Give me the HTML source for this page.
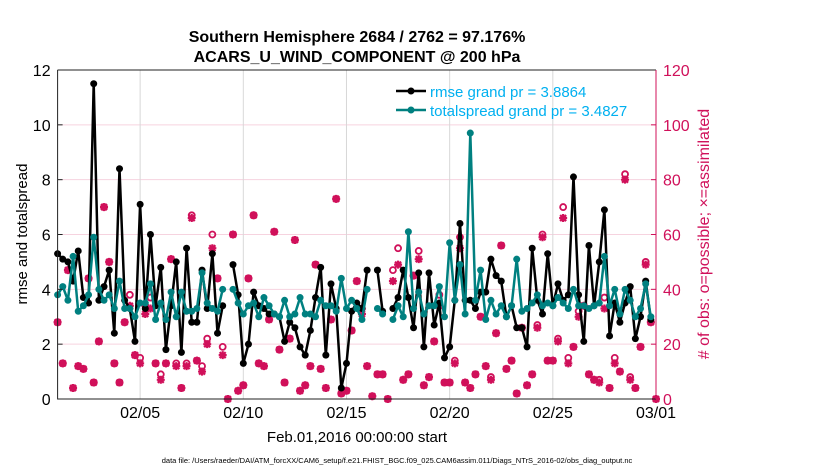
<!DOCTYPE html>
<html><head><meta charset="utf-8"><style>
body{margin:0;background:#fff;}
svg{display:block;font-family:"Liberation Sans",sans-serif;}
</style></head><body>
<svg id="chart" width="830" height="470" viewBox="0 0 830 470" xmlns="http://www.w3.org/2000/svg">
<rect width="830" height="470" fill="#fff"/>
<text x="357" y="42" text-anchor="middle" font-size="16" font-weight="bold">Southern Hemisphere 2684 / 2762 = 97.176%</text>
<text x="357" y="62" text-anchor="middle" font-size="16" font-weight="bold">ACARS_U_WIND_COMPONENT @ 200 hPa</text>
<g id="grid"></g>
<g id="obs"></g>
<g id="lines"></g>
<g id="axes"></g>
<text transform="translate(27,234) rotate(-90)" text-anchor="middle" font-size="15">rmse and totalspread</text>
<text transform="translate(709,234) rotate(-90)" text-anchor="middle" font-size="16" fill="#d0105a"># of obs: o=possible; ×=assimilated</text>
<text x="357" y="442" text-anchor="middle" font-size="15">Feb.01,2016 00:00:00 start</text>
<text x="397" y="463" text-anchor="middle" font-size="7.5">data file: /Users/raeder/DAI/ATM_forcXX/CAM6_setup/f.e21.FHIST_BGC.f09_025.CAM6assim.011/Diags_NTrS_2016-02/obs_diag_output.nc</text>
<g>
<line x1="396" y1="91" x2="426" y2="91" stroke="#000" stroke-width="2.5"/><circle cx="411" cy="91" r="3.5" fill="#000"/>
<text x="430" y="97" font-size="15" fill="#00b0f0">rmse grand pr = 3.8864</text>
<line x1="396" y1="110" x2="426" y2="110" stroke="#008080" stroke-width="2.5"/><circle cx="411" cy="110" r="3.5" fill="#008080"/>
<text x="430" y="116" font-size="15" fill="#00b0f0">totalspread grand pr = 3.4827</text>
</g>
</svg>
<script>
const rmse=[5.3,5.1,5.0,4.3,5.4,3.7,3.5,11.5,3.6,4.1,4.7,2.4,8.4,3.6,3.3,2.1,7.1,3.3,6.0,3.4,4.8,1.8,3.4,5.0,1.7,5.5,2.8,2.8,
4.7,3.3,5.3,2.4,3.4,null,4.9,3.8,1.3,2.0,3.9,3.4,3.3,3.1,3.1,3.0,2.1,2.8,2.6,1.9,1.6,2.5,3.7,4.8,1.6,4.2,3.3,0.4,1.3,3.2,3.5,3.3,
4.7,null,4.7,3.2,null,3.3,3.7,4.7,3.7,2.6,4.6,1.9,4.6,2.7,3.5,1.5,1.9,3.6,6.4,3.6,3.6,3.3,3.9,3.9,5.1,4.5,4.3,3.0,
3.4,2.6,2.6,1.9,5.5,3.6,3.1,5.3,3.4,4.2,3.6,3.8,8.1,3.8,2.1,5.6,3.4,5.0,6.9,2.3,3.5,2.8,3.5,4.1,2.2,3.0,4.3,2.9];
const spread=[3.8,4.1,3.6,5.2,3.2,3.4,3.8,5.9,4.0,3.6,3.8,3.3,4.3,3.3,3.3,3.0,3.5,3.5,4.2,2.9,3.5,2.9,3.9,3.0,3.9,3.2,3.2,3.3,
4.6,3.5,3.3,3.2,4.0,null,4.0,3.5,3.1,3.4,3.5,3.0,3.7,3.4,3.1,3.0,3.6,3.0,3.1,3.7,3.1,3.1,3.0,3.6,3.4,3.4,3.2,4.4,3.3,3.6,3.3,2.9,
4.0,null,3.3,3.1,null,2.9,3.4,3.0,6.1,3.3,3.9,3.1,3.4,3.4,4.1,3.0,5.7,3.6,4.9,3.1,9.7,3.6,4.7,2.9,3.6,3.1,3.4,3.0,
3.4,5.1,3.2,3.3,3.5,3.8,3.4,3.5,3.4,3.7,3.5,3.3,4.0,3.4,3.4,3.3,3.4,3.5,5.2,3.4,4.0,3.1,4.0,3.6,3.0,3.3,4.2,3.0];
const assim=[28,13,47,4,12,11,44,6,21,70,50,13,6,28,34,16,13,31,33,13,7,13,51,12,4,12,66,14,
10,20,55,44,16,0,60,3,5,44,67,13,12,29,61,18,6,22,58,3,5,12,49,11,4,29,73,2,3,25,43,31,
12,1,9,9,0,43,49,7,9,45,51,5,8,21,34,6,6,13,55,6,4,9,30,12,7,24,56,11,
14,2,26,5,9,26,59,14,14,21,66,13,19,30,34,9,7,6,33,4,13,10,80,7,4,19,49,28,0];
const possible=[28,13,47,4,12,11,44,6,21,70,50,13,6,28,38,16,15,34,37,13,9,13,51,13,4,13,67,14,
12,22,60,44,19,0,60,3,5,44,67,13,12,29,61,18,6,22,58,3,5,12,49,11,4,29,73,2,3,25,43,33,
12,1,9,9,0,47,55,7,9,45,54,5,8,21,38,6,6,14,59,6,4,9,30,12,8,24,56,11,
14,2,26,5,9,27,60,14,14,22,70,15,19,32,34,9,7,7,37,4,15,10,82,8,4,19,50,28,0];
const dateTicks=["02/05","02/10","02/15","02/20","02/25","03/01"];
const tickDays=[4,9,14,19,24,29];
const leftTicks=[0,2,4,6,8,10,12];
const rightTicks=[0,20,40,60,80,100,120];

const X0=57.6,X1=656,Y0=399,Y1=70,DAYS=29;
const x=d=>X0+(X1-X0)*d/DAYS;
const yL=v=>Y0-(Y0-Y1)*v/12;
const yR=v=>Y0-(Y0-Y1)*v/120;
const dayOf=i=>i*0.25;
const NS="http://www.w3.org/2000/svg";
function mk(tag,parent,attrs){const e=document.createElementNS(NS,tag);for(const k in attrs)e.setAttribute(k,attrs[k]);parent.appendChild(e);return e;}
const grid=document.getElementById('grid'),axes=document.getElementById('axes'),lines=document.getElementById('lines'),obs=document.getElementById('obs');
leftTicks.forEach(v=>{if(v>0&&v<12){const g=mk('line',grid,{x1:X0,x2:X1,y1:yL(v),y2:yL(v),stroke:'#f6d3df','stroke-width':1});

}
const t=mk('text',axes,{x:X0-7,y:yL(v)+6,'text-anchor':'end','font-size':16});t.textContent=v;


mk('line',axes,{x1:X0,x2:X0+5,y1:yL(v),y2:yL(v),stroke:'#222'});});
rightTicks.forEach(v=>{const t=mk('text',axes,{x:X1+7,y:yR(v)+6,'font-size':16,fill:'#d0105a'});t.textContent=v;


mk('line',axes,{x1:X1-5,x2:X1,y1:yR(v),y2:yR(v),stroke:'#d0105a'});});
tickDays.forEach((d,i)=>{const g=mk('line',grid,{x1:x(d),x2:x(d),y1:Y1,y2:Y0,stroke:'#d8d8d8','stroke-width':1});


const t=mk('text',axes,{x:x(d),y:Y0+19,'text-anchor':'middle','font-size':16});t.textContent=dateTicks[i];

});
mk('path',axes,{d:`M${X0},${Y1}V${Y0}H${X1}`,fill:'none',stroke:'#222','stroke-width':1});
mk('line',axes,{x1:X0,x2:X1,y1:Y1,y2:Y1,stroke:'#222'});
mk('line',axes,{x1:X1,x2:X1,y1:Y1,y2:Y0,stroke:'#d0105a'});
possible.forEach((v,i)=>{if(v==null)return;const c=mk('circle',obs,{cx:x(dayOf(i)),cy:yR(v),r:3,fill:'none',stroke:'#d0105a','stroke-width':1.8});

});
assim.forEach((v,i)=>{if(v==null)return;const cx=x(dayOf(i)),cy=yR(v);
const p=mk('path',obs,{d:`M${cx-4},${cy}H${cx+4}M${cx},${cy-4}V${cy+4}M${cx-3},${cy-3}L${cx+3},${cy+3}M${cx-3},${cy+3}L${cx+3},${cy-3}`,stroke:'#d0105a','stroke-width':2.2});


const c=mk('circle',obs,{cx:cx,cy:cy,r:2.6,fill:'#d0105a'});

});
function series(arr,color,name){let d='';let pen=false;arr.forEach((v,i)=>{if(v==null){pen=false;return;}d+=(pen?'L':'M')+x(dayOf(i)).toFixed(1)+','+yL(v).toFixed(1);pen=true;});
const p=mk('path',lines,{d:d,fill:'none',stroke:color,'stroke-width':2.5,'stroke-linejoin':'round'});


arr.forEach((v,i)=>{if(v==null)return;const c=mk('circle',lines,{cx:x(dayOf(i)),cy:yL(v),r:3.5,fill:color});

});}
series(rmse,'#000','rmse');
series(spread,'#008080','totalspread');
</script>
</body></html>
